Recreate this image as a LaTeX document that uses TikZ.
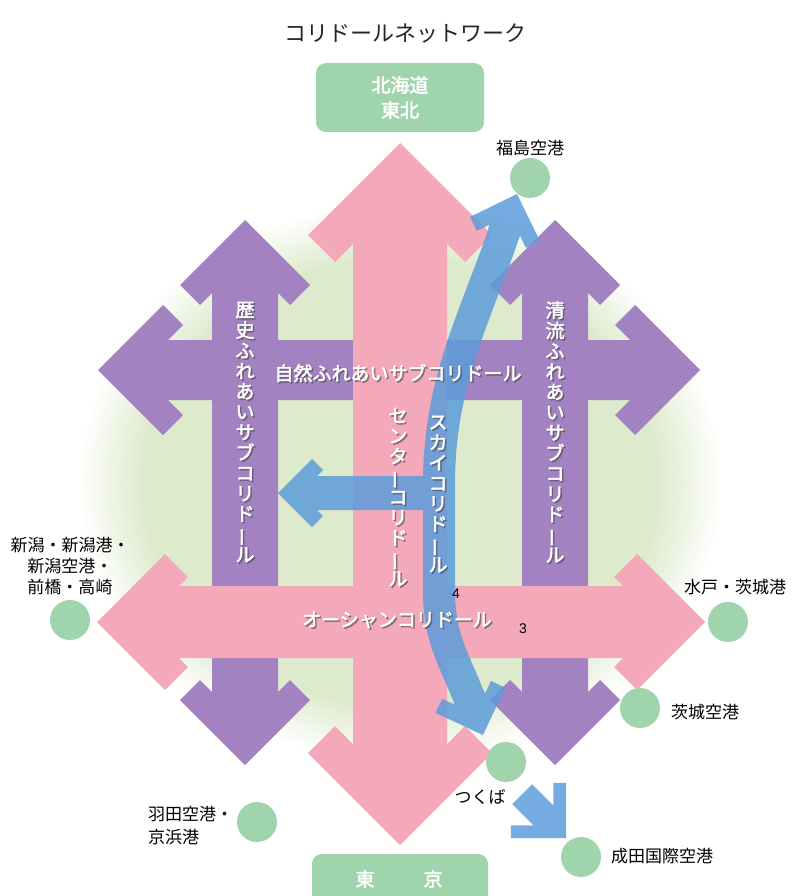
\documentclass[tikz,border=0pt]{standalone}
\usepackage{fontspec}
\usepackage{graphicx}
\newfontfamily\jp{Noto Sans CJK JP}
\newfontfamily\jpb[FakeBold=2.5]{Noto Sans CJK JP}
\newfontfamily\lat{Liberation Sans}
\definecolor{cpink}{RGB}{243,169,186}
\definecolor{cpurple}{RGB}{162,130,192}
\definecolor{cblue}{RGB}{92,156,218}
\definecolor{cgreen}{RGB}{160,212,172}
\definecolor{cbg}{RGB}{222,234,204}
\pgfdeclareradialshading{blobshade}{\pgfpoint{0bp}{0bp}}{color(0bp)=(cbg); color(20bp)=(cbg); color(25bp)=(white); color(50bp)=(white)}
% double headed chevron arrow: L a t w (tip at origin, shaft along +x)
\newcommand\DblArrow[4]{(0,0) -- (#2,#2) -- ({#2+#3},{#2-#3}) -- ({#4+2*#3},#4) -- ({#1-#4-2*#3},#4) -- ({#1-#2-#3},{#2-#3}) -- ({#1-#2},#2) -- (#1,0) -- ({#1-#2},-#2) -- ({#1-#2-#3},{#3-#2}) -- ({#1-#4-2*#3},-#4) -- ({#4+2*#3},-#4) -- ({#2+#3},{#3-#2}) -- (#2,-#2) -- cycle}
\newcommand\OneArrow[4]{(0,0) -- (#2,#2) -- ({#2+#3},{#2-#3}) -- ({#4+2*#3},#4) -- (#1,#4) -- (#1,-#4) -- ({#4+2*#3},-#4) -- ({#2+#3},{#3-#2}) -- (#2,-#2) -- cycle}
\newcommand\vbar{\rotatebox[origin=c]{90}{ー}}
\newcommand\wlabel[4]{%
  \node[stxt] (#1s) at ({#2+1.5},{#3+1.5}) {#4};
  \node[wtxt] (#1) at (#2,#3) {#4};}
\tikzset{
  lbl/.style={font=\jp\fontsize{17pt}{21pt}\selectfont, text=black, inner sep=0pt},
  wtxt/.style={font=\jpb\fontsize{19pt}{20.4pt}\selectfont, text=white, inner sep=0pt, align=center},
  stxt/.style={font=\jpb\fontsize{19pt}{20.4pt}\selectfont, text=black!70, inner sep=0pt, align=center, opacity=0.55},
  dot/.style={circle, fill=cgreen, minimum size=40pt, inner sep=0pt},
  gbox/.style={fill=cgreen, rounded corners=10pt, inner sep=0pt},
  boxtxt/.style={font=\jpb\fontsize{19pt}{25pt}\selectfont, text=white, align=center, inner sep=0pt},
  numtxt/.style={font=\lat\fontsize{14pt}{16pt}\selectfont, inner sep=0pt},
}
\begin{document}
\begin{tikzpicture}[x=1pt,y=-1pt]
\useasboundingbox (0,0) rectangle (793,896);
\clip (0,0) rectangle (793,896);
% background blob
\shade[shading=blobshade] (400,482) ellipse [x radius=322pt, y radius=280pt];
% purple crosses
\fill[cpurple, shift={(98,370)}] \DblArrow{602}{65}{20}{30};
\fill[cpurple, shift={(245,220)}, rotate=-90] \DblArrow{545}{65}{20}{33};
\fill[cpurple, shift={(555,220)}, rotate=-90] \DblArrow{545}{65}{20}{33};
% pink cross
\fill[cpink, shift={(97,622)}] \DblArrow{608}{68}{23}{36};
\fill[cpink, shift={(400,143)}, rotate=-90] \DblArrow{702}{92}{27}{47};
% blue arrows
\begin{scope}[transparency group, opacity=0.85]
  \draw[cblue, line width=32pt] (505,230) .. controls (475,318) and (440,380) .. (439,480) -- (439,590) .. controls (439,640) and (455,660) .. (470,700);
  \fill[cblue, shift={(517,194)}, rotate=251] \OneArrow{42}{37}{11}{16};
  \fill[cblue, shift={(483,735)}, rotate=110] \OneArrow{42}{37}{11}{16};
  \fill[cblue, shift={(278,493)}] \OneArrow{150}{34}{11}{17};
  \fill[cblue, shift={(566,838)}, rotate=135] \OneArrow{62}{39}{9}{14};
\end{scope}
% green circles
\node[dot] (cfuku) at (530,178) {};
\node[dot] (cniig) at (70,620) {};
\node[dot] (chane) at (257,822) {};
\node[dot] (cmito) at (728,622) {};
\node[dot] (cibak) at (640,708) {};
\node[dot] (ctsuk) at (506,762) {};
\node[dot] (cnari) at (581,857) {};
% boxes
\node[gbox, minimum width=168pt, minimum height=69pt, boxtxt] (north) at (400,97.5) {北海道\\東北};
\node[gbox, minimum width=176pt, minimum height=80pt] (tokyo) at (400,894) {};
\node[boxtxt] (tokyo1) at (365,879) {東};
\node[boxtxt] (tokyo2) at (433,879) {京};
% title
\node[font=\jp\fontsize{22pt}{26pt}\selectfont, text=black!85, inner sep=0pt] (title) at (405,33) {コリドールネットワーク};
% place labels
\node[lbl] (lfuku) at (530,148) {福島空港};
\node[lbl, align=center] (lniig) at (70,566) {新潟・新潟港・\\新潟空港・\\前橋・高崎};
\node[lbl, align=left, anchor=west, font=\jp\fontsize{17pt}{23pt}\selectfont] (lhane) at (148,826) {羽田空港・\\京浜港};
\node[lbl, anchor=west] (lmito) at (684,587) {水戸・茨城港};
\node[lbl, anchor=west] (libak) at (671,712) {茨城空港};
\node[lbl] (ltsuk) at (480,797) {つくば};
\node[lbl, anchor=west] (lnari) at (611,856) {成田国際空港};
\node[numtxt] (n4) at (456,594) {4};
\node[numtxt] (n3) at (523,629) {3};
% corridor labels
\wlabel{shizen}{398}{373}{自然ふれあいサブコリドール}
\wlabel{ocean}{397}{620}{オーシャンコリドール}
\wlabel{rekishi}{245}{432}{歴\\史\\ふ\\れ\\あ\\い\\サ\\ブ\\コ\\リ\\ド\\\vbar\\ル}
\wlabel{seiryu}{555}{432}{清\\流\\ふ\\れ\\あ\\い\\サ\\ブ\\コ\\リ\\ド\\\vbar\\ル}
\wlabel{center}{398}{497}{セ\\ン\\タ\\\vbar\\コ\\リ\\ド\\\vbar\\ル}
\wlabel{sky}{438}{494}{ス\\カ\\イ\\コ\\リ\\ド\\\vbar\\ル}
\end{tikzpicture}
\end{document}
